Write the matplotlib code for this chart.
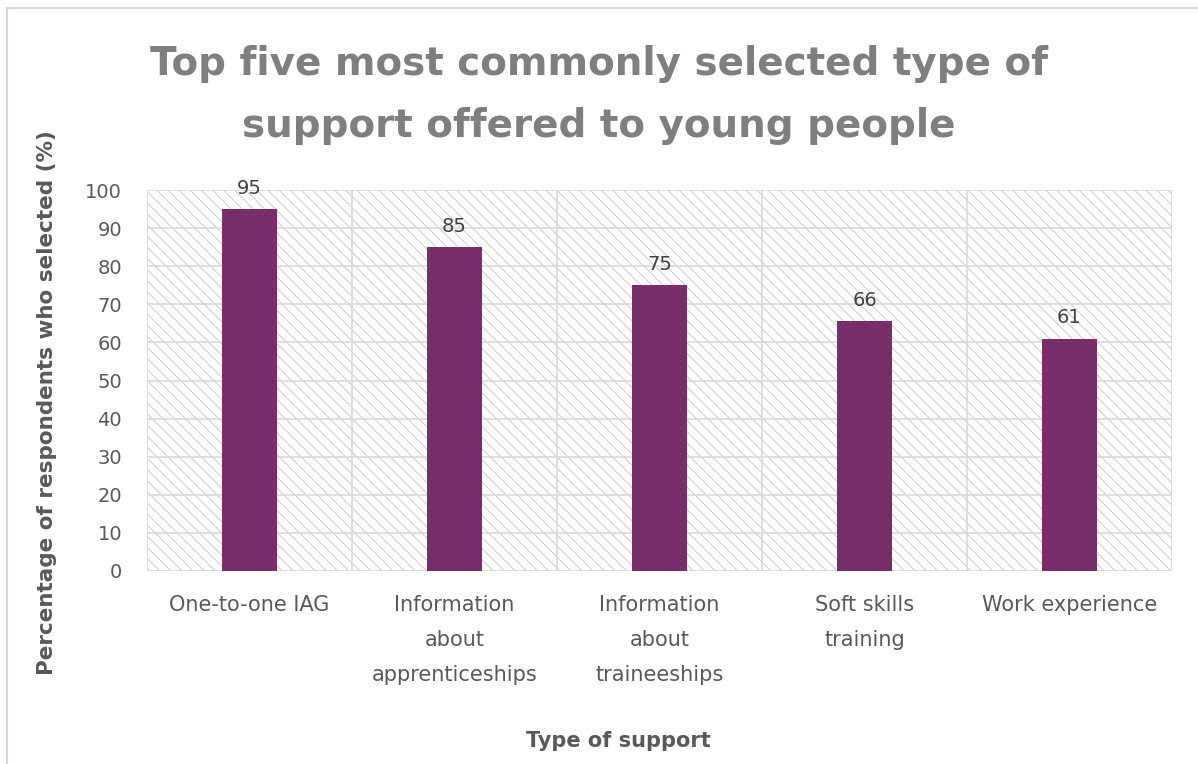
import matplotlib.pyplot as plt
from matplotlib.patches import Rectangle

# chart data
categories = ['One-to-one IAG', 'Information\nabout\napprenticeships',
              'Information\nabout\ntraineeships', 'Soft skills\ntraining',
              'Work experience']
values = [95, 85, 75, 65.5, 61]
value_labels = ['95', '85', '75', '66', '61']
y_ticks = [0, 10, 20, 30, 40, 50, 60, 70, 80, 90, 100]

bar_color = '#782E6A'
grid_color = '#d9d9d9'
text_color = '#595959'

plt.rcParams['font.family'] = ['DejaVu Sans']
plt.rcParams['hatch.linewidth'] = 0.7
plt.rcParams['hatch.color'] = '#cccccc'

fig = plt.figure(figsize=(11.98, 7.64), dpi=100)

# outer chart border
fig.patches.append(Rectangle((7 / 1198, -0.1), 1.2, (764 - 8) / 764 + 0.1,
                             transform=fig.transFigure, fill=False,
                             edgecolor='#d9d9d9', linewidth=1.5))

ax = fig.add_axes([147 / 1198, (764 - 571) / 764, (1172 - 147) / 1198, (571 - 190) / 764])

# hatched plot area background
ax.add_patch(Rectangle((0, 0), 1, 1, transform=ax.transAxes, facecolor='white',
                       edgecolor='#cccccc', hatch='\\\\\\', linewidth=0, zorder=0))

x = list(range(len(categories)))
ax.bar(x, values, width=0.27, color=bar_color, zorder=3)

for xi, v, lab in zip(x, values, value_labels):
    ax.text(xi, v + 3.0, lab, ha='center', va='bottom', fontsize=14, color='#404040')

ax.set_xlim(-0.5, len(categories) - 0.5)
ax.set_ylim(0, 100)
ax.set_yticks(y_ticks)
ax.set_xticks(x)
ax.set_xticklabels(categories, fontsize=15, color=text_color, linespacing=1.95)
ax.tick_params(axis='y', labelsize=14, labelcolor=text_color, length=0, pad=18)
ax.tick_params(axis='x', length=0, pad=17)

# gridlines
for t in y_ticks:
    ax.axhline(t, color=grid_color, linewidth=1.2, zorder=1)
for b in range(len(categories) + 1):
    ax.axvline(b - 0.5, color=grid_color, linewidth=1.2, zorder=1)

for s in ax.spines.values():
    s.set_visible(False)

ax.set_ylabel('Percentage of respondents who selected (%)', fontsize=15.5,
              fontweight='bold', color=text_color)
ax.yaxis.set_label_coords(-0.088, 0.441)
ax.set_xlabel('Type of support', fontsize=15, fontweight='bold', color=text_color)
ax.xaxis.set_label_coords(0.46, -0.419)

fig.text(0.5, 0.876, 'Top five most commonly selected type of\nsupport offered to young people',
         ha='center', va='center', fontsize=28, fontweight='bold', color='#7f7f7f',
         linespacing=1.8)

fig.savefig('out.png', dpi=100)
